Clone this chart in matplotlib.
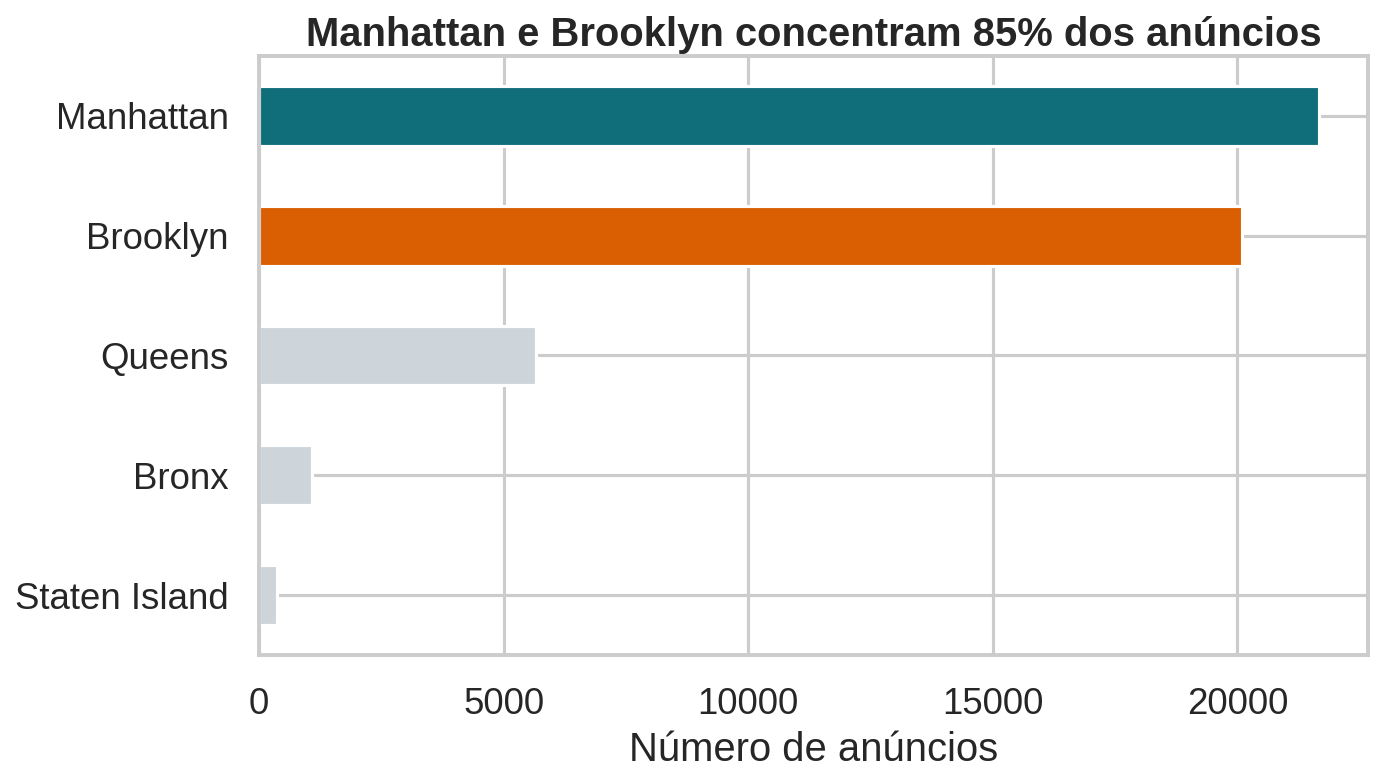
import matplotlib
matplotlib.use("Agg")
import matplotlib.pyplot as plt
import seaborn as sns

boroughs = ["Manhattan", "Brooklyn", "Queens", "Bronx", "Staten Island"]
listings = [21661, 20104, 5666, 1091, 373]
bar_colors = ["#106e7b", "#da5e02", "#cdd5db", "#cdd5db", "#cdd5db"]

sns.set_theme(style="whitegrid", context="talk")
plt.rcParams["font.family"] = ["Liberation Sans", "DejaVu Sans"]

fig, ax = plt.subplots(figsize=(1385 / 150, 777 / 150), dpi=150)
pos = list(range(len(boroughs)))[::-1]
ax.barh(pos, listings, height=0.5, color=bar_colors, edgecolor="white", linewidth=1.5, zorder=2)
ax.set_yticks(pos)
ax.set_yticklabels(boroughs)
ax.tick_params(axis="both", labelsize=17.6)
ax.tick_params(axis="y", pad=5.5)
ax.tick_params(axis="x", pad=6.5)
ax.set_ylim(-0.5, 4.5)
ax.set_xlim(0, max(listings) * 1.047)
ax.set_xlabel("Número de anúncios", fontsize=19.2, labelpad=4)
ax.set_title("Manhattan e Brooklyn concentram 85% dos anúncios",
             fontweight="bold", fontsize=19.2, pad=5)

fig.subplots_adjust(left=0.187, right=0.988, top=0.928, bottom=0.157)
fig.savefig("out.png", dpi=150)
